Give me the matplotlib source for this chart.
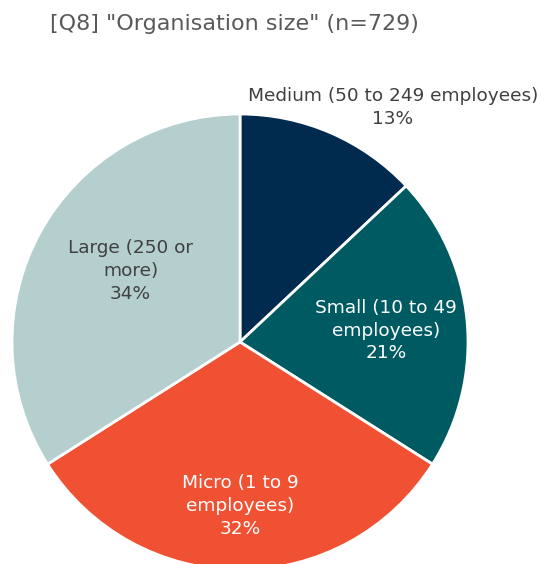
import matplotlib
matplotlib.use("Agg")
import matplotlib.pyplot as plt

# ===== DATA =====
categories = ["Medium (50 to 249 employees)", "Small (10 to 49\nemployees)",
              "Micro (1 to 9\nemployees)", "Large (250 or\nmore)"]
shares = [13, 21, 32, 34]
colors = ["#002b4e", "#005a62", "#f05133", "#b4cfce"]
text_colors = ["#404040", "white", "white", "#404040"]
title = '[Q8] "Organisation size" (n=729)'

# label spots (data coords, pie radius = 1), tuned by eye
label_pos = [(0.67, 1.03), (0.64, 0.05), (0.0, -0.72), (-0.48, 0.31)]

plt.rcParams["font.family"] = ["DejaVu Sans"]

W, H = 541, 564
cx, cy, r = 240, 342, 228
fig = plt.figure(figsize=(W / 100, H / 100), dpi=100)
ax = fig.add_axes([(cx - r) / W, (H - cy - r) / H, 2 * r / W, 2 * r / H])

wedges, _ = ax.pie(shares, colors=colors, startangle=90, counterclock=False,
                   radius=1, wedgeprops=dict(edgecolor="white", linewidth=2))
ax.set_xlim(-1, 1)
ax.set_ylim(-1, 1)
ax.set_aspect("equal")
ax.axis("off")
for w in wedges:
    w.set_clip_on(False)

for cat, val, (x, y), tc in zip(categories, shares, label_pos, text_colors):
    ax.text(x, y, f"{cat}\n{val}%", ha="center", va="center", color=tc,
            fontsize=13.3, linespacing=1.35, clip_on=False)

fig.text(50 / W, 1 - 24 / H, title, ha="left", va="center", fontsize=16, color="#595959")

fig.savefig("out.png", dpi=100)
